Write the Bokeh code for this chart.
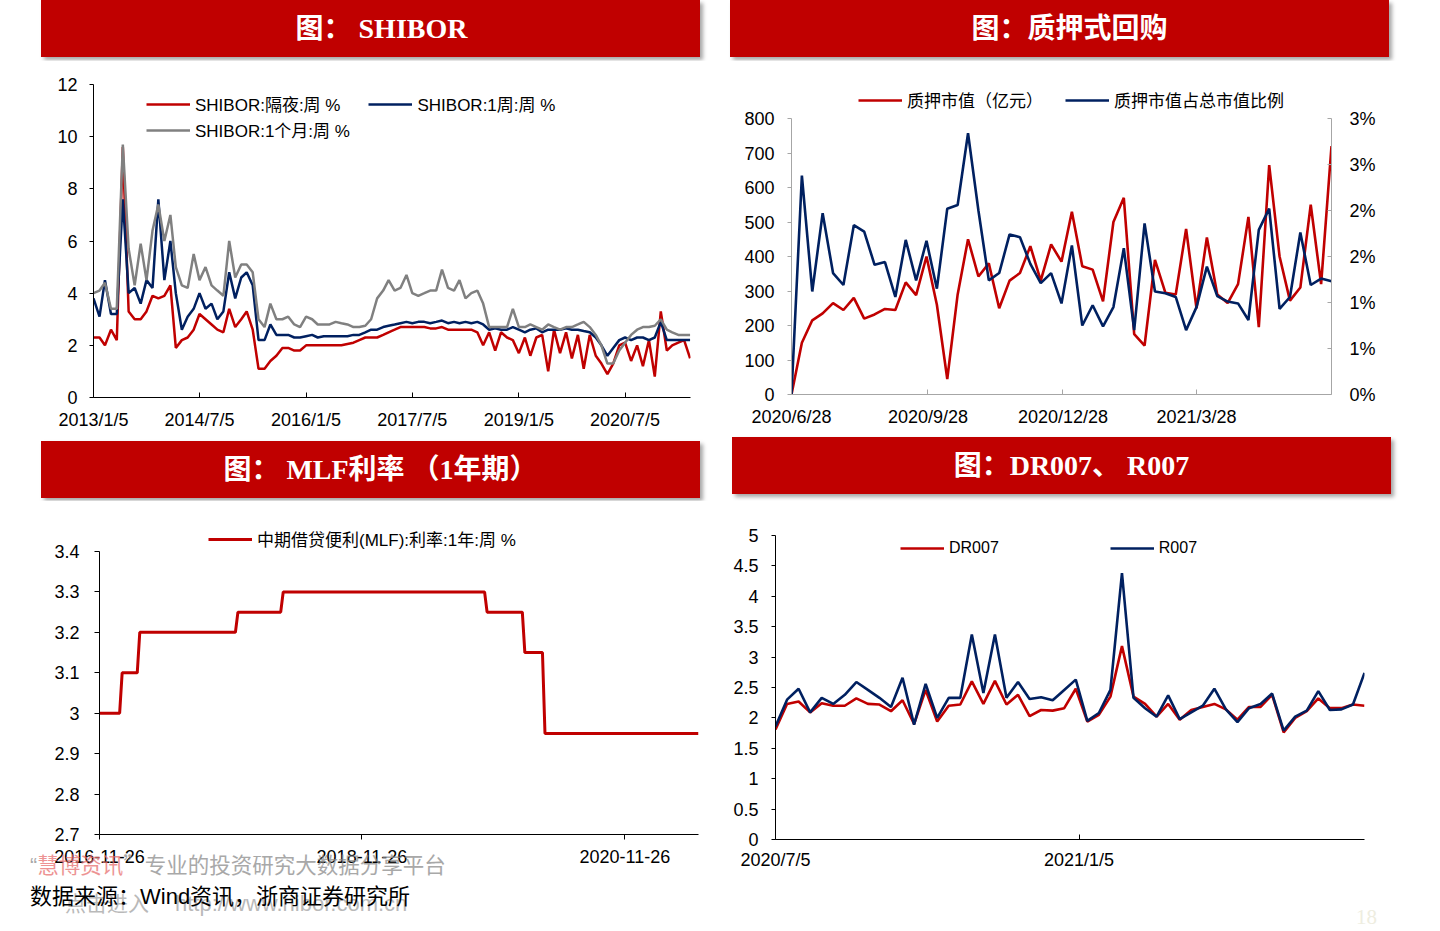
import pandas as pd
from bokeh.plotting import figure
from bokeh.layouts import column, row
from bokeh.models import (Range1d, LinearAxis, FixedTicker, DatetimeTickFormatter,
                          Legend, LegendItem, NumeralTickFormatter, Div)
from bokeh.embed import file_html
from bokeh.resources import INLINE

RED = "#C00000"
NAVY = "#002060"
GRAY = "#808080"
SANS = "Liberation Sans, Noto Sans CJK SC"

# ---------------- data: SHIBOR (monthly readings, 2013/1 .. 2021/6) ----------------
shibor_dates = pd.date_range("2013-01-05", periods=102, freq=pd.DateOffset(months=1))
shibor_on = [2.3, 2.3, 2.0, 2.6, 2.2, 9.6, 3.3, 3.0, 3.0, 3.3, 3.9, 3.8,
             3.9, 4.3, 1.9, 2.2, 2.3, 2.6, 3.2, 3.0, 2.8, 2.6, 2.5, 3.4,
             2.7, 3.0, 3.3, 2.6, 1.1, 1.1, 1.4, 1.6, 1.9, 1.9, 1.8, 1.8,
             2.0, 2.0, 2.0, 2.0, 2.0, 2.0, 2.0, 2.05, 2.1, 2.2, 2.3, 2.3,
             2.3, 2.4, 2.5, 2.6, 2.7, 2.7, 2.7, 2.7, 2.7, 2.65, 2.65, 2.7,
             2.6, 2.6, 2.6, 2.6, 2.6, 2.5, 2.0, 2.5, 1.8, 2.5, 2.3, 2.2,
             1.7, 2.3, 1.6, 2.3, 2.4, 1.0, 2.6, 1.7, 2.5, 1.5, 2.4, 1.1,
             2.4, 1.6, 1.3, 0.9, 1.3, 2.0, 2.1, 1.4, 2.0, 1.2, 2.2, 0.8,
             3.3, 1.8, 2.0, 2.1, 2.2, 1.5]
shibor_1w = [3.8, 3.1, 4.5, 3.2, 3.2, 7.6, 4.0, 4.2, 3.6, 4.5, 4.2, 7.6,
             4.5, 6.0, 4.0, 2.6, 3.1, 3.4, 4.0, 3.4, 3.6, 3.0, 3.3, 4.8,
             3.8, 4.6, 4.8, 4.3, 2.2, 2.2, 2.8, 2.4, 2.4, 2.4, 2.3, 2.3,
             2.35, 2.4, 2.3, 2.35, 2.35, 2.35, 2.35, 2.35, 2.4, 2.4, 2.5, 2.6,
             2.6, 2.7, 2.75, 2.8, 2.85, 2.9, 2.85, 2.9, 2.9, 2.85, 2.9, 2.95,
             2.85, 2.9, 2.85, 2.9, 2.85, 2.9, 2.8, 2.6, 2.65, 2.6, 2.6, 2.7,
             2.6, 2.5, 2.6, 2.65, 2.5, 2.6, 2.6, 2.6, 2.65, 2.6, 2.6, 2.55,
             2.5, 2.3, 2.0, 1.6, 1.9, 2.2, 2.3, 2.2, 2.3, 2.3, 2.2, 2.3,
             2.9, 2.2, 2.2, 2.2, 2.2, 2.2]
shibor_1m = [4.0, 4.1, 4.4, 3.4, 3.4, 9.7, 5.7, 4.3, 5.9, 4.5, 6.4, 7.4,
             6.0, 7.0, 5.0, 4.3, 4.2, 5.5, 4.5, 5.0, 4.3, 4.1, 3.9, 6.0,
             4.6, 5.1, 5.1, 4.8, 3.0, 2.7, 3.6, 3.0, 3.0, 3.1, 2.8, 2.7,
             3.1, 3.0, 2.8, 2.8, 2.8, 2.9, 2.85, 2.8, 2.7, 2.7, 2.75, 3.0,
             3.8, 4.1, 4.5, 4.1, 4.2, 4.7, 4.0, 3.9, 4.0, 4.1, 4.1, 4.9,
             4.2, 4.1, 4.5, 3.8, 4.0, 4.1, 3.6, 2.7, 2.7, 2.7, 2.7, 3.4,
             2.7, 2.7, 2.8, 2.7, 2.6, 2.8, 2.7, 2.6, 2.7, 2.7, 2.8, 2.9,
             2.7, 2.4, 2.0, 1.3, 1.3, 1.8, 2.1, 2.4, 2.6, 2.7, 2.7, 2.75,
             3.0, 2.6, 2.5, 2.4, 2.4, 2.4]
shibor_ticks = ["2013-01-05", "2014-07-05", "2016-01-05", "2017-07-05", "2019-01-05", "2020-07-05"]

# ---------------- data: 质押式回购 (weekly) ----------------
pledge_dates = pd.date_range("2020-06-28", periods=53, freq="7D")
pledge_value = [0, 150, 215, 235, 265, 245, 280, 220, 232, 248, 245, 325, 288,
                400, 260, 45, 290, 450, 342, 380, 250, 330, 352, 430, 330, 435,
                385, 530, 372, 362, 270, 500, 570, 175, 142, 390, 295, 290, 480,
                250, 455, 290, 265, 320, 515, 195, 665, 400, 272, 310, 550, 320, 720]
pledge_ratio = [0, 2.38, 1.12, 1.97, 1.32, 1.19, 1.84, 1.77, 1.41, 1.44, 1.06, 1.68, 1.24,
                1.67, 1.15, 2.02, 2.06, 2.84, 2.0, 1.24, 1.32, 1.74, 1.71, 1.42, 1.21, 1.32,
                0.99, 1.62, 0.75, 0.97, 0.74, 0.95, 1.59, 0.70, 1.86, 1.12, 1.10, 1.06, 0.70,
                0.95, 1.39, 1.07, 1.01, 0.99, 0.81, 1.79, 2.02, 0.93, 1.06, 1.76, 1.19, 1.26, 1.23]
pledge_ticks = ["2020-06-28", "2020-09-28", "2020-12-28", "2021-03-28"]
ratio_ticks = [0, 0.5, 1.0, 1.5, 2.0, 2.5, 3.0]
ratio_labels = ["0%", "1%", "1%", "2%", "2%", "3%", "3%"]

# ---------------- data: MLF 1Y (change points, weekly) ----------------
mlf_dates = ["2016-11-26", "2017-01-21", "2017-01-28", "2017-03-11", "2017-03-18",
             "2017-12-09", "2017-12-16", "2018-04-14", "2018-04-21", "2019-11-02",
             "2019-11-09", "2020-02-15", "2020-02-22", "2020-04-11", "2020-04-18", "2021-06-19"]
mlf_rate = [3.0, 3.0, 3.1, 3.1, 3.2, 3.2, 3.25, 3.25, 3.3, 3.3, 3.25, 3.25, 3.15, 3.15, 2.95, 2.95]
mlf_ticks = ["2016-11-26", "2018-11-26", "2020-11-26"]

# ---------------- data: DR007 / R007 (weekly) ----------------
repo_dates = pd.date_range("2020-07-05", periods=52, freq="7D")
dr007 = [1.81, 2.23, 2.27, 2.09, 2.24, 2.20, 2.20, 2.32, 2.23, 2.22,
         2.11, 2.29, 1.90, 2.46, 1.94, 2.20, 2.22, 2.60, 2.23, 2.61,
         2.22, 2.38, 2.03, 2.13, 2.12, 2.16, 2.48, 1.94, 2.05, 2.35,
         3.18, 2.35, 2.23, 2.02, 2.23, 1.97, 2.13, 2.18, 2.23, 2.14,
         1.97, 2.18, 2.18, 2.38, 1.76, 2.00, 2.11, 2.32, 2.16, 2.16,
         2.22, 2.20]
r007 = [1.86, 2.30, 2.48, 2.09, 2.33, 2.23, 2.38, 2.59, 2.46, 2.33,
        2.18, 2.66, 1.89, 2.56, 2.00, 2.33, 2.33, 3.37, 2.41, 3.37,
        2.33, 2.59, 2.31, 2.34, 2.29, 2.46, 2.63, 1.95, 2.08, 2.46,
        4.38, 2.33, 2.16, 2.02, 2.37, 1.98, 2.09, 2.20, 2.48, 2.14,
        1.93, 2.16, 2.23, 2.40, 1.79, 2.02, 2.12, 2.44, 2.13, 2.14,
        2.22, 2.74]
repo_ticks = ["2020-07-05", "2021-01-05"]


def ms(d):
    return pd.Timestamp(d).value // 10**6


def date_fmt(f="%Y/%-m/%-d"):
    return DatetimeTickFormatter(days=f, months=f, years=f, hours=f, hourmin=f,
                                 minutes=f, minsec=f, seconds=f, milliseconds=f,
                                 microseconds=f)


def base_fig(fw, fh, left, right, top, bottom, xr, yr):
    p = figure(frame_width=fw, frame_height=fh, min_border_left=left, min_border_right=right,
               min_border_top=top, min_border_bottom=bottom, x_axis_type="datetime",
               x_range=xr, y_range=yr, output_backend="svg", toolbar_location=None)
    p.grid.visible = False
    p.outline_line_color = None
    p.background_fill_color = "white"
    p.border_fill_color = "white"
    return p


def style_axis(ax, color="black", tin=0, tout=4, standoff=10, size="18px"):
    ax.axis_line_color = color
    ax.major_tick_line_color = color
    ax.minor_tick_line_color = None
    ax.major_tick_in = tin
    ax.major_tick_out = tout
    ax.major_label_standoff = standoff
    ax.major_label_text_font = SANS
    ax.major_label_text_font_size = size
    ax.major_label_text_color = "black"


def make_legend(items, vx, vy, spacing=20, size="16px"):
    return Legend(items=items, location=(vx, vy), orientation="horizontal",
                  glyph_width=44, glyph_height=16, label_height=16, label_standoff=5,
                  spacing=spacing, padding=0, margin=0, border_line_color=None,
                  background_fill_alpha=0, label_text_font=SANS,
                  label_text_font_size=size, label_text_color="black")


def banner(text, left, top, shift, w=659, h=57):
    return (f'<div style="position:absolute;left:{left}px;top:{top}px;width:{w}px;height:{h}px;'
            f'box-sizing:border-box;padding-left:{shift}px;'
            f'background:#C00000;box-shadow:3px 3px 4px rgba(0,0,0,0.35);color:white;'
            f'display:flex;align-items:center;justify-content:center;'
            f"font-family:'Liberation Serif','Noto Sans CJK SC',serif;font-weight:bold;"
            f'font-size:28px;white-space:nowrap;">{text}</div>')


# ---------------- chart 1: SHIBOR ----------------
p1 = base_fig(597, 313, 93, 30, 24, 40,
              Range1d(pd.Timestamp("2013-01-05"), pd.Timestamp("2021-06-07")), Range1d(0, 12))
r_on = p1.line(shibor_dates, shibor_on, line_color=RED, line_width=2.5)
r_1w = p1.line(shibor_dates, shibor_1w, line_color=NAVY, line_width=2.5)
r_1m = p1.line(shibor_dates, shibor_1m, line_color=GRAY, line_width=2.5)
p1.xaxis.ticker = FixedTicker(ticks=[ms(d) for d in shibor_ticks])
p1.xaxis.formatter = date_fmt()
p1.yaxis.ticker = FixedTicker(ticks=[0, 2, 4, 6, 8, 10, 12])
style_axis(p1.xaxis[0], tin=5, tout=0, standoff=12)
style_axis(p1.yaxis[0], tin=0, tout=4, standoff=12)
p1.add_layout(make_legend([LegendItem(label="SHIBOR:隔夜:周 %", renderers=[r_on]),
                           LegendItem(label="SHIBOR:1周:周 %", renderers=[r_1w])],
                          53, 281, 28, "17px"))
p1.add_layout(make_legend([LegendItem(label="SHIBOR:1个月:周 %", renderers=[r_1m])],
                          53, 255, 20, "17px"))

# ---------------- chart 2: 质押式回购 ----------------
# the frame reaches 30px above the 800 tick so that the legend sits inside it;
# the axis lines are bounded to the tick range
AX2 = "#A6A6A6"
p2 = base_fig(540, 306, 71, 109, 28, 43,
              Range1d(pd.Timestamp("2020-06-28"), pd.Timestamp("2021-06-27")),
              Range1d(0, 800 * 306 / 276))
p2.extra_y_ranges = {"pct": Range1d(0, 3 * 306 / 276)}
r_val = p2.line(pledge_dates, pledge_value, line_color=RED, line_width=2.6)
r_rat = p2.line(pledge_dates, pledge_ratio, line_color=NAVY, line_width=2.6, y_range_name="pct")
ax_r = LinearAxis(y_range_name="pct", ticker=FixedTicker(ticks=ratio_ticks), bounds=(0, 3),
                  major_label_overrides=dict(zip(ratio_ticks, ratio_labels)))
p2.add_layout(ax_r, "right")
p2.xaxis.ticker = FixedTicker(ticks=[ms(d) for d in pledge_ticks])
p2.xaxis.formatter = date_fmt()
p2.yaxis[0].ticker = FixedTicker(ticks=list(range(0, 801, 100)))
p2.yaxis[0].bounds = (0, 800)
style_axis(p2.xaxis[0], color=AX2, tin=5, tout=0, standoff=12)
style_axis(p2.yaxis[0], color=AX2, tin=0, tout=4, standoff=13)
style_axis(ax_r, color=AX2, tin=4, tout=0, standoff=18)
p2.add_layout(make_legend([LegendItem(label="质押市值（亿元）", renderers=[r_val]),
                           LegendItem(label="质押市值占总市值比例", renderers=[r_rat])],
                          67, 282, 22, "17px"))

# ---------------- chart 3: MLF ----------------
p3 = base_fig(599, 309, 99, 22, 25, 38,
              Range1d(pd.Timestamp("2016-11-26"), pd.Timestamp("2021-06-19")),
              Range1d(2.7, 2.7 + 0.7 * 309 / 283))
r_mlf = p3.line(pd.to_datetime(mlf_dates), mlf_rate, line_color=RED, line_width=3)
p3.xaxis.ticker = FixedTicker(ticks=[ms(d) for d in mlf_ticks])
p3.xaxis.formatter = date_fmt("%Y-%m-%d")
p3.yaxis.ticker = FixedTicker(ticks=[2.7, 2.8, 2.9, 3.0, 3.1, 3.2, 3.3, 3.4])
p3.yaxis.formatter = NumeralTickFormatter(format="0.[0]")
p3.yaxis[0].bounds = (2.7, 3.4)
style_axis(p3.xaxis[0], tin=0, tout=5, standoff=10)
style_axis(p3.yaxis[0], tin=0, tout=5, standoff=15)
p3.add_layout(make_legend([LegendItem(label="中期借贷便利(MLF):利率:1年:周 %", renderers=[r_mlf])],
                          109, 283, 20, "17px"))

# ---------------- chart 4: DR007 / R007 ----------------
p4 = base_fig(589, 304, 55, 76, 35, 33,
              Range1d(pd.Timestamp("2020-07-05"), pd.Timestamp("2021-06-27")), Range1d(0, 5))
r_dr = p4.line(repo_dates, dr007, line_color=RED, line_width=2.6)
r_r = p4.line(repo_dates, r007, line_color=NAVY, line_width=2.6)
p4.xaxis.ticker = FixedTicker(ticks=[ms(d) for d in repo_ticks])
p4.xaxis.formatter = date_fmt()
p4.yaxis.ticker = FixedTicker(ticks=[0, 0.5, 1, 1.5, 2, 2.5, 3, 3.5, 4, 4.5, 5])
p4.yaxis.formatter = NumeralTickFormatter(format="0.[0]")
style_axis(p4.xaxis[0], tin=5, tout=0, standoff=10)
style_axis(p4.yaxis[0], tin=0, tout=4, standoff=13)
p4.add_layout(make_legend([LegendItem(label="DR007", renderers=[r_dr]),
                           LegendItem(label="R007", renderers=[r_r])], 125, 282, 111))

# ---------------- banners ----------------
b1 = Div(text=banner("图： SHIBOR", 41, 0, 22), width=720, height=60, margin=0)
b2 = Div(text=banner("图：质押式回购", 10, 0, 20), width=720, height=60, margin=0)
b3 = Div(text=banner("图： MLF利率 （1年期）", 41, 4, 20), width=720, height=63, margin=0)
b4 = Div(text=banner("图：DR007、 R007", 12, 0, 20), width=720, height=63, margin=0)

# ---------------- footer ----------------
CJK = "'Liberation Sans','Noto Sans CJK SC',sans-serif"
footer_html = (
    f'<div style="position:absolute;left:30px;top:-19px;font-family:{CJK};font-size:21.5px;'
    f'line-height:21px;white-space:nowrap;opacity:0.75;">'
    f'<span style="color:#8c8c8c;">“</span><span style="color:#E87070;">慧博资讯</span>'
    f"<span style=\"color:#8c8c8c;font-family:'Noto Sans CJK SC';\">”专业的投资研究大数据分享平台</span></div>"
    f'<div style="position:absolute;left:65px;top:22px;font-family:{CJK};font-size:21px;'
    f'line-height:20px;white-space:nowrap;color:#8c8c8c;opacity:0.6;">点击进入'
    f'<span style="margin-left:26px;font-size:22px;">http://www.hibor.com.cn</span></div>'
    f'<div style="position:absolute;left:30px;top:14px;font-family:{CJK};font-size:22px;'
    f'line-height:22px;white-space:nowrap;color:black;">数据来源：Wind资讯，浙商证券研究所</div>'
    f"<div style=\"position:absolute;left:1356px;top:35px;font-family:'Liberation Serif',serif;"
    f'font-size:21px;line-height:21px;color:#EEEDE0;">18</div>'
)
footer = Div(text=footer_html, width=1440, height=59, margin=0, styles={"overflow": "visible"})

layout = column(row(b1, b2, spacing=0),
                row(column(p1), column(p2), spacing=0),
                row(b3, b4, spacing=0),
                row(column(p3), column(p4), spacing=0),
                footer, spacing=0)
open("out.html", "w").write(file_html(layout, INLINE, title="chart"))
